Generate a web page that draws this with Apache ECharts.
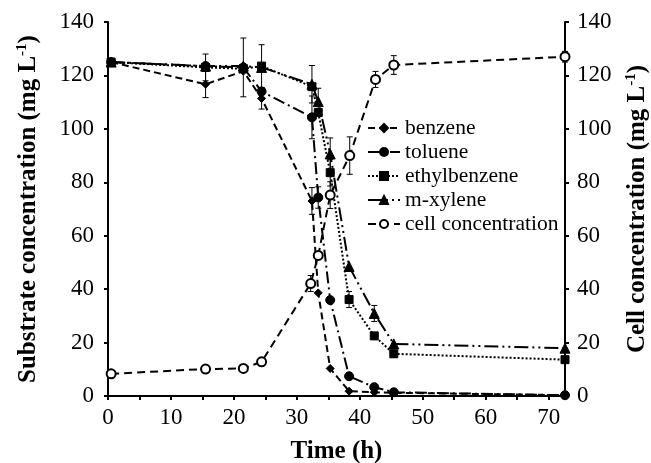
<!DOCTYPE html>
<html>
<head>
<meta charset="utf-8">
<script src="https://cdn.jsdelivr.net/npm/echarts@6/dist/echarts.min.js"></script>
<style>
  html, body { margin: 0; padding: 0; background: #fff; }
  #chart { width: 651px; height: 463px; }
</style>
</head>
<body>
<div id="chart"></div>
<script>
// sampling times (h)
const time = [0.5, 15.5, 21.5, 24.4, 32.4, 33.4, 35.3, 38.3, 42.3, 45.4, 72.6];
const cellTime = [0.5, 15.5, 21.5, 24.4, 32.2, 33.4, 35.3, 38.4, 42.5, 45.4, 72.6];

// substrate concentration (mg L-1)
const benzene = [125, 116.7, 121.6, 111.4, 73, 38.6, 10.3, 1.8, 1.4, 1.2, 0.3];
const toluene = [125, 123.5, 123, 114, 104.3, 74.3, 35.9, 7.4, 3.3, 1.4, 0.3];
const ethylbenzene = [125, 123, 122.5, 123.5, 115.8, 106.1, 83.6, 36.1, 22.5, 15.8, 13.6];
const mXylene = [125, 123.5, 123.5, 123, 116.7, 110.2, 90.6, 48.5, 30.9, 19.5, 17.9];
// cell concentration (mg L-1)
const cell = [8.3, 10.1, 10.3, 12.8, 42.1, 52.6, 75.2, 90, 118.5, 123.9, 127];

// error bars (+/-)
const benzeneErr = [0, 5, 0, 4, 5, 0, 0, 0, 0, 0, 0];
const tolueneErr = [0, 0, 11, 0, 8, 4, 0, 0, 0, 0, 0];
const ethylbenzeneErr = [0, 5, 0, 8, 0, 0, 5, 3, 0, 0, 0];
const mXyleneErr = [0, 0, 0, 0, 7, 5, 6, 0, 3, 0, 0];
const cellErr = [0, 0, 0, 0, 3, 0, 5, 7, 3, 3.5, 2];

const serif = 'Liberation Serif, Times New Roman, serif';

function pairs(xs, ys) {
  return xs.map((x, i) => [x, ys[i]]);
}
function errData(xs, ys, es) {
  return xs.map((x, i) => [x, ys[i], es[i]]).filter(d => d[2] > 0);
}

function errorBars(name, xs, ys, es, yIdx) {
  return {
    name: name,
    type: 'custom',
    yAxisIndex: yIdx,
    silent: true,
    z: 1,
    data: errData(xs, ys, es),
    renderItem: function (params, api) {
      const x = api.value(0), y = api.value(1), e = api.value(2);
      const hi = api.coord([x, y + e]);
      const lo = api.coord([x, y - e]);
      const w = 3;
      const st = { stroke: '#000', lineWidth: 1 };
      return {
        type: 'group',
        children: [
          { type: 'line', shape: { x1: hi[0], y1: hi[1], x2: lo[0], y2: lo[1] }, style: st },
          { type: 'line', shape: { x1: hi[0] - w, y1: hi[1], x2: hi[0] + w, y2: hi[1] }, style: st },
          { type: 'line', shape: { x1: lo[0] - w, y1: lo[1], x2: lo[0] + w, y2: lo[1] }, style: st }
        ]
      };
    }
  };
}

function lineSeries(name, data, symbol, size, dash, yIdx) {
  return {
    name: name,
    type: 'line',
    yAxisIndex: yIdx,
    data: data,
    symbol: symbol,
    symbolSize: size,
    showAllSymbol: true,
    z: 3,
    lineStyle: { color: '#000', width: 2, type: dash },
    itemStyle: { color: '#000', borderColor: '#000', borderWidth: 1 },
    emphasis: { disabled: true }
  };
}

const chart = echarts.init(document.getElementById('chart'));

const yAxisBase = {
  type: 'value',
  min: 0,
  max: 140,
  interval: 20,
  nameLocation: 'middle',
  splitLine: { show: false },
  axisLine: { show: true, lineStyle: { color: '#000', width: 2 } },
  axisTick: { show: true, length: 4, lineStyle: { color: '#000', width: 2 } },
  axisLabel: { color: '#000', fontFamily: serif, fontSize: 23, margin: 14 }
};

const nameStyle = {
  color: '#000',
  fontFamily: serif,
  fontWeight: 'bold',
  fontSize: 25,
  rich: {
    sup: { fontFamily: serif, fontWeight: 'bold', fontSize: 15, verticalAlign: 'top', padding: [0, 0, 12, 0] }
  }
};

chart.setOption({
  animation: false,
  backgroundColor: '#fff',
  grid: { left: 108, right: 86, top: 22, bottom: 67, outerBoundsMode: 'none', containLabel: false },
  legend: {
    orient: 'vertical',
    left: 362,
    top: 112,
    itemWidth: 32,
    itemHeight: 10,
    itemGap: 2,
    data: ['benzene', 'toluene', 'ethylbenzene', 'm-xylene', 'cell concentration'],
    textStyle: { color: '#000', fontFamily: serif, fontSize: 21.5 }
  },
  xAxis: {
    type: 'value',
    min: 0,
    max: 72.6,
    interval: 5,
    name: 'Time (h)',
    nameLocation: 'middle',
    nameGap: 43,
    nameTextStyle: nameStyle,
    splitLine: { show: false },
    axisLine: { show: true, onZero: false, lineStyle: { color: '#000', width: 2 } },
    axisTick: { show: true, length: 4, lineStyle: { color: '#000', width: 2 } },
    axisLabel: {
      color: '#000', fontFamily: serif, fontSize: 23, margin: 10,
      showMaxLabel: false,
      formatter: v => (v % 10 === 0 ? String(v) : '')
    }
  },
  yAxis: [
    Object.assign({}, yAxisBase, {
      position: 'left',
      name: 'Substrate concentration (mg L{sup|-1})',
      nameGap: 66,
      nameTextStyle: nameStyle
    }),
    Object.assign({}, yAxisBase, {
      position: 'right',
      name: 'Cell concentration (mg L{sup|-1})',
      nameGap: 59,
      nameRotate: 90,
      nameTextStyle: nameStyle,
      axisLabel: { color: '#000', fontFamily: serif, fontSize: 23, margin: 12 }
    })
  ],
  series: [
    errorBars('benzene-err', time, benzene, benzeneErr, 0),
    errorBars('toluene-err', time, toluene, tolueneErr, 0),
    errorBars('ethylbenzene-err', time, ethylbenzene, ethylbenzeneErr, 0),
    errorBars('m-xylene-err', time, mXylene, mXyleneErr, 0),
    errorBars('cell-err', cellTime, cell, cellErr, 1),
    lineSeries('benzene', pairs(time, benzene), 'diamond', 8, [7, 4], 0),
    lineSeries('toluene', pairs(time, toluene), 'circle', 9, [12, 4, 2, 4], 0),
    lineSeries('ethylbenzene', pairs(time, ethylbenzene), 'rect', 8, [2, 2], 0),
    lineSeries('m-xylene', pairs(time, mXylene), 'triangle', 10, [14, 4, 2, 4, 2, 4], 0),
    lineSeries('cell concentration', pairs(cellTime, cell), 'emptyCircle', 9, [8, 5], 1)
  ]
});

window.addEventListener('resize', () => {
  chart.resize();
});
</script>
</body>
</html>
